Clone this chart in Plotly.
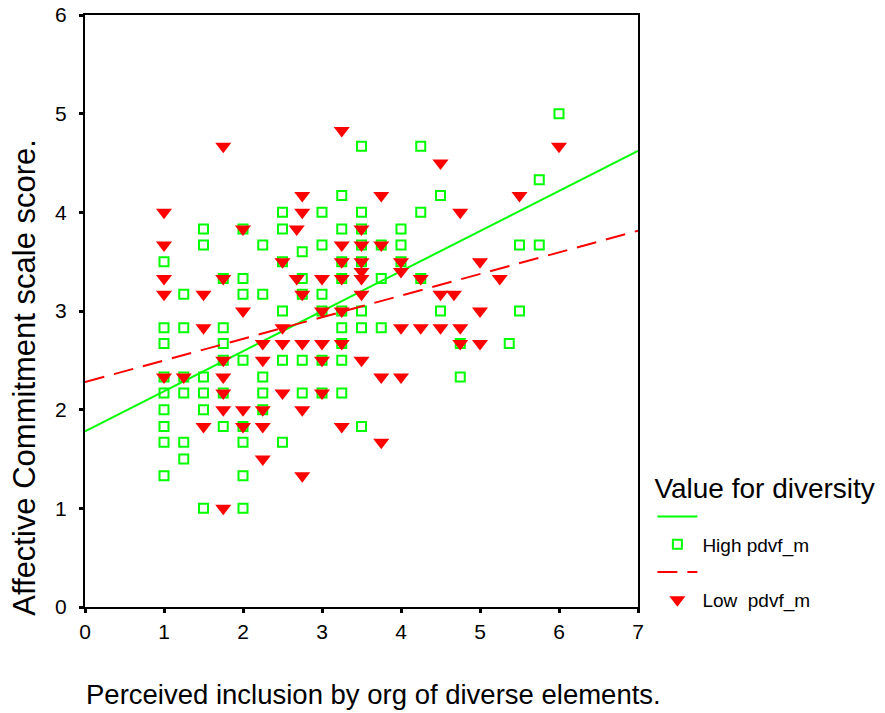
import plotly.graph_objects as go

# ---- data ----
high_x = [1, 1, 1, 1, 1, 1, 1, 1, 1,
          1.25, 1.25, 1.25, 1.25, 1.25, 1.25,
          1.5, 1.5, 1.5, 1.5, 1.5, 1.5,
          1.75, 1.75, 1.75, 1.75, 1.75, 1.75,
          2, 2, 2, 2, 2, 2, 2, 2,
          2.25, 2.25, 2.25, 2.25, 2.25,
          2.5, 2.5, 2.5, 2.5, 2.5, 2.5,
          2.75, 2.75, 2.75, 2.75, 2.75,
          3, 3, 3, 3, 3, 3,
          3.25, 3.25, 3.25, 3.25, 3.25, 3.25, 3.25, 3.25, 3.25,
          3.5, 3.5, 3.5, 3.5, 3.5, 3.5, 3.5, 3.5,
          3.75, 3.75, 3.75,
          4, 4, 4,
          4.25, 4.25, 4.25,
          4.5, 4.5,
          4.75, 4.75,
          5.37,
          5.5, 5.5,
          5.75, 5.75,
          6]
high_y = [3.5, 2.83, 2.67, 2.33, 2.17, 2.0, 1.83, 1.67, 1.33,
          3.17, 2.83, 2.33, 2.17, 1.67, 1.5,
          3.83, 3.67, 2.33, 2.17, 2.0, 1.0,
          3.33, 2.83, 2.67, 2.5, 2.17, 1.83,
          3.83, 3.33, 3.17, 2.5, 1.83, 1.67, 1.33, 1.0,
          3.67, 3.17, 2.33, 2.17, 2.0,
          4.0, 3.83, 3.5, 3.0, 2.5, 1.67,
          3.6, 3.33, 3.17, 2.5, 2.17,
          4.0, 3.67, 3.17, 3.0, 2.5, 2.17,
          4.17, 3.83, 3.5, 3.33, 3.0, 2.83, 2.67, 2.5, 2.17,
          4.67, 4.0, 3.83, 3.67, 3.5, 3.0, 2.83, 1.83,
          3.67, 3.33, 2.83,
          3.83, 3.67, 3.5,
          4.67, 4.0, 3.33,
          4.17, 3.0,
          2.67, 2.33,
          2.67,
          3.67, 3.0,
          4.33, 3.67,
          5.0]

low_x = [1, 1, 1, 1, 1,
         1.25,
         1.5, 1.5, 1.5,
         1.75, 1.75, 1.75, 1.75, 1.75, 1.75, 1.75,
         2, 2, 2, 2,
         2.25, 2.25, 2.25, 2.25, 2.25,
         2.5, 2.5, 2.5, 2.5,
         2.68, 2.68,
         2.75, 2.75, 2.75, 2.75, 2.75, 2.75,
         3, 3, 3, 3, 3,
         3.25, 3.25, 3.25, 3.25, 3.25, 3.25, 3.25,
         3.5, 3.5, 3.5, 3.5, 3.5, 3.5, 3.5,
         3.75, 3.75, 3.75, 3.75,
         4, 4, 4, 4,
         4.25, 4.25,
         4.5, 4.5, 4.5,
         4.67,
         4.75, 4.75, 4.75,
         5, 5, 5,
         5.25,
         5.5,
         6]
low_y = [4.0, 3.67, 3.33, 3.17, 2.33,
         2.33,
         3.17, 2.83, 1.83,
         4.67, 3.33, 2.5, 2.33, 2.17, 2.0, 1.0,
         3.83, 3.0, 2.0, 1.83,
         2.67, 2.5, 2.0, 1.83, 1.5,
         3.5, 2.83, 2.67, 2.17,
         3.83, 3.33,
         4.17, 4.0, 3.17, 2.67, 2.0, 1.33,
         3.33, 3.0, 2.67, 2.5, 2.17,
         4.83, 3.67, 3.5, 3.33, 3.0, 2.67, 1.83,
         3.83, 3.67, 3.5, 3.4, 3.33, 3.17, 2.5,
         4.17, 3.67, 2.33, 1.67,
         3.5, 3.4, 2.83, 2.33,
         3.33, 2.83,
         4.5, 3.17, 2.83,
         3.17,
         4.0, 2.83, 2.67,
         3.5, 3.0, 2.67,
         3.33,
         4.17,
         4.67]

# fitted regression lines (intercept, slope)
fit_x_range = [0, 7]
high_fit = [1.78, 0.406]
low_fit = [2.28, 0.219]

x_ticks = [0, 1, 2, 3, 4, 5, 6, 7]
y_ticks = [0, 1, 2, 3, 4, 5, 6]

x_title = "Perceived inclusion by org of diverse elements."
y_title = "Affective Commitment scale score."
legend_title = "Value for diversity"

GREEN = "#00FF00"
RED = "#FF0000"
FONT = "Liberation Sans, Arial, sans-serif"

fig = go.Figure()

fig.add_trace(go.Scatter(
    x=fit_x_range, y=[high_fit[0] + high_fit[1] * v for v in fit_x_range],
    mode="lines", line=dict(color=GREEN, width=2), name=" ",
    legendgroup="h"))
fig.add_trace(go.Scatter(
    x=high_x, y=high_y, mode="markers", name="High pdvf_m",
    marker=dict(symbol="square-open", size=9, color=GREEN, line=dict(width=2, color=GREEN)),
    legendgroup="h"))
fig.add_trace(go.Scatter(
    x=fit_x_range, y=[low_fit[0] + low_fit[1] * v for v in fit_x_range],
    mode="lines", line=dict(color=RED, width=2, dash="20px,10px"), name=" ",
    legendgroup="l"))
fig.add_trace(go.Scatter(
    x=low_x, y=low_y, mode="markers", name="Low  pdvf_m",
    marker=dict(symbol="triangle-down", size=14, color=RED),
    legendgroup="l"))

axis_common = dict(
    showline=True, linecolor="black", linewidth=2, mirror=True,
    showgrid=False, zeroline=False, ticks="outside", ticklen=4, tickwidth=3,
    tickcolor="black", tickfont=dict(family=FONT, size=21, color="black"),
    automargin=False,
)

fig.update_xaxes(range=[0, 7], tickvals=x_ticks, ticktext=[str(v) for v in x_ticks],
                 ticklabelstandoff=1, **axis_common)
fig.update_yaxes(range=[0, 6], tickvals=y_ticks, ticktext=[str(v) for v in y_ticks],
                 ticklabelstandoff=8, **axis_common)

# axis titles placed as annotations (positions follow the reference)
fig.add_annotation(text=x_title, xref="paper", yref="paper", x=0.5226, y=-0.1486,
                   xanchor="center", yanchor="middle", showarrow=False,
                   font=dict(family=FONT, size=27.5, color="black"))
fig.add_annotation(text=y_title, xref="paper", yref="paper", x=-0.1085, y=0.389,
                   xanchor="center", yanchor="middle", showarrow=False, textangle=-90,
                   font=dict(family=FONT, size=31, color="black"))

fig.update_layout(
    width=885, height=713,
    margin=dict(l=85, r=247, t=15, b=106, autoexpand=False),
    plot_bgcolor="white", paper_bgcolor="white",
    font=dict(family=FONT, color="black"),
    legend=dict(
        title=dict(text=legend_title, font=dict(family=FONT, size=28, color="black")),
        font=dict(family=FONT, size=19, color="black"),
        x=1.026, xanchor="left", y=0.246, yanchor="top",
        traceorder="normal", itemwidth=40, tracegroupgap=0,
        bgcolor="rgba(0,0,0,0)",
    ),
)

fig.write_html("out.html", config={"displayModeBar": False},
               post_script="document.body.style.margin='0';")
